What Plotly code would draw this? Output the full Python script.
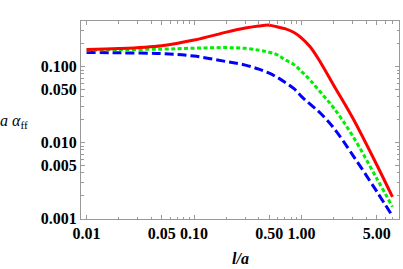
import plotly.graph_objects as go

x = [0.01, 0.02, 0.05, 0.1, 0.2, 0.3, 0.4, 0.5, 0.6, 0.7, 0.85, 1.0, 1.2, 1.5, 2.0, 3.0, 5.0, 7.0]
red = [0.1687, 0.173, 0.189, 0.224, 0.285, 0.322, 0.343, 0.352, 0.333, 0.316, 0.2811, 0.2377, 0.1825, 0.1136, 0.0561, 0.0209, 0.0051, 0.00192]
green = [0.165, 0.1675, 0.170, 0.175, 0.178, 0.174, 0.165, 0.155, 0.142, 0.1236, 0.1063, 0.0859, 0.0664, 0.046, 0.0283, 0.0121, 0.00337, 0.001426]
blue = [0.154, 0.152, 0.1485, 0.1377, 0.1164, 0.1047, 0.0927, 0.082, 0.0716, 0.0624, 0.0513, 0.0402, 0.032, 0.0243, 0.01542, 0.00679, 0.00227, 0.001076]

xtick_vals = [0.01, 0.05, 0.1, 0.5, 1, 5]
xtick_text = ["0.01", "0.05", "0.10", "0.50", "1.00", "5.00"]
ytick_vals = [0.001, 0.005, 0.01, 0.05, 0.1]
ytick_text = ["0.001", "0.005", "0.010", "0.050", "0.100"]

xminor = [m * 10 ** e for e in (-2, -1, 0) for m in (2, 3, 4, 6, 7, 8, 9)]
yminor = [m * 10 ** e for e in (-3, -2, -1) for m in (2, 3, 4, 6, 7, 8, 9)]

fig = go.Figure()
fig.add_trace(go.Scatter(x=x, y=blue, mode="lines", line=dict(color="#0000ff", width=3, dash="9px,4px", shape="spline", smoothing=1)))
fig.add_trace(go.Scatter(x=x, y=green, mode="lines", line=dict(color="#00ee00", width=3, dash="4px,2.5px", shape="spline", smoothing=1)))
fig.add_trace(go.Scatter(x=x, y=red, mode="lines", line=dict(color="#ff0000", width=3, shape="spline", smoothing=1)))

tickfont = dict(family="Liberation Serif", size=16, color="black", weight="bold")
axis_common = dict(
    type="log", showgrid=False, zeroline=False, showline=True, linecolor="#999999", linewidth=1,
    mirror="ticks", ticks="inside", ticklen=4, tickcolor="#999999", tickfont=tickfont,
)
fig.update_xaxes(**axis_common, range=[-2.052, 0.906], tickmode="array", tickvals=xtick_vals, ticktext=xtick_text,
                 minor=dict(ticks="inside", ticklen=2.5, tickcolor="#999999", tickvals=xminor))
fig.update_yaxes(**axis_common, range=[-3.007, -0.399], tickmode="array", tickvals=ytick_vals, ticktext=ytick_text,
                 minor=dict(ticks="inside", ticklen=2.5, tickcolor="#999999", tickvals=yminor))

fig.add_annotation(text="<i>a α</i><sub>ff</sub>", xref="paper", yref="paper", x=-0.26, y=0.49,
                   xanchor="left", yanchor="middle", showarrow=False,
                   font=dict(family="Liberation Serif", size=16, color="black"))
fig.add_annotation(text="<b><i>l/a</i></b>", xref="paper", yref="paper", x=0.5, y=-0.2,
                   xanchor="center", yanchor="middle", showarrow=False,
                   font=dict(family="Liberation Serif", size=16, color="black"))

fig.update_layout(
    width=403, height=269, margin=dict(l=81, r=4, t=21, b=50),
    paper_bgcolor="white", plot_bgcolor="white", showlegend=False,
    font=dict(family="Liberation Serif", size=16, color="black"),
)
fig.write_html("out.html", config={"displayModeBar": False, "staticPlot": True})

with open("out.html", encoding="utf-8") as f:
    html = f.read()
html = html.replace("<head>", "<head><style>html,body{margin:0;padding:0;overflow:hidden;}</style>", 1)
with open("out.html", "w", encoding="utf-8") as f:
    f.write(html)
